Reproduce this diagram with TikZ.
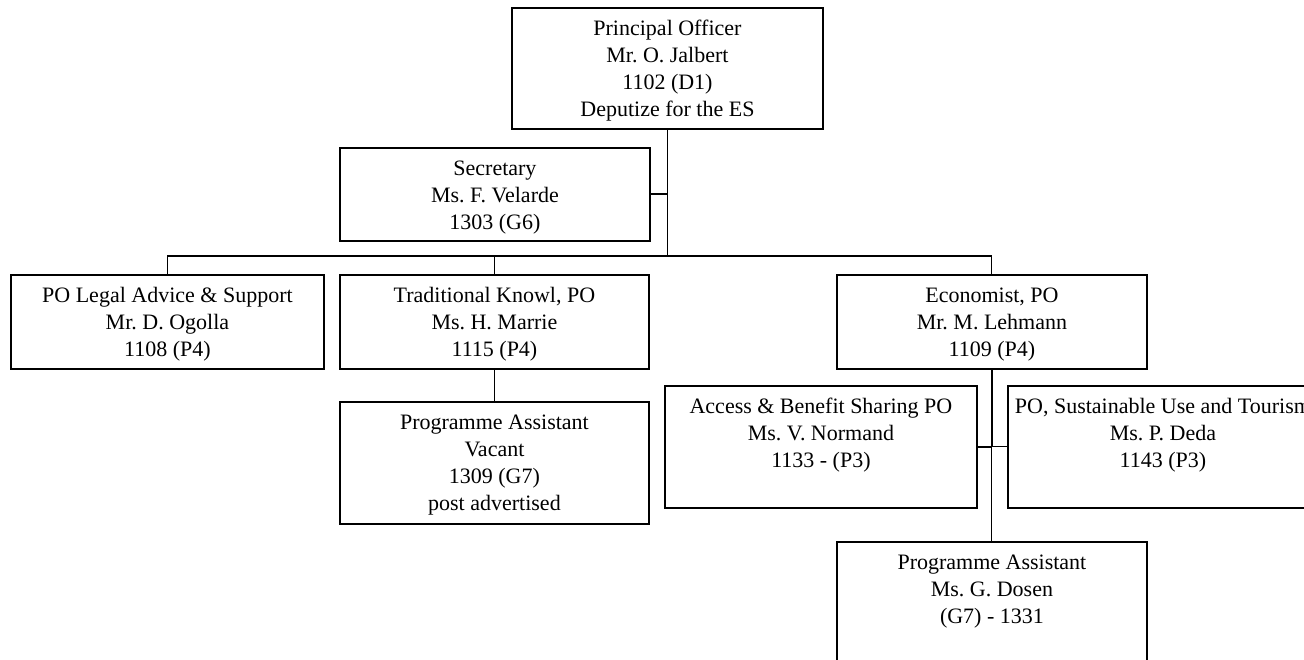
\documentclass[tikz,border=0pt]{standalone}
\usepackage{fontspec}
\setmainfont{Liberation Serif}
\frenchspacing
\newcommand{\postText}[3]{\parbox[c][#2pt][t]{#1pt}{\centering\rule{0pt}{28pt}#3}}
\tikzset{
  post/.style={draw, line width=1.9pt, inner sep=0pt, anchor=north west,
    font=\fontsize{22}{27}\selectfont},
  main link/.style={line width=1.9pt},
  side link/.style={line width=1pt}
}

\begin{document}
\begin{tikzpicture}[x=1pt, y=-1pt]
        \useasboundingbox (0,0) rectangle (1304,660);
        \clip (0,0) rectangle (1304,660);
        % boxes
        \node[post] (officer) at (511,7) {\postText{311}{121}{Principal Officer\\Mr. O. Jalbert\\1102 (D1)\\Deputize for the ES}};
        \node[post] (secretary) at (339,147) {\postText{310}{93}{Secretary\\Ms. F. Velarde\\1303 (G6)}};
        \node[post] (legal) at (10,274) {\postText{313}{94}{PO Legal Advice \& Support\\Mr. D. Ogolla\\1108 (P4)}};
        \node[post] (traditional) at (339,274) {\postText{309}{94}{Traditional Knowl, PO\\Ms. H. Marrie\\1115 (P4)}};
        \node[post] (vacant) at (339,401) {\postText{309}{122}{Programme Assistant\\Vacant\\1309 (G7)\\post advertised}};
        \node[post] (economist) at (836,274) {\postText{310}{94}{Economist, PO\\Mr. M. Lehmann\\1109 (P4)}};
        \node[post] (access) at (664,385) {\postText{312}{122}{Access \& Benefit Sharing PO\\Ms. V. Normand\\1133 - (P3)}};
        \node[post] (tourism) at (1007,385) {\postText{310}{122}{PO, Sustainable Use and Tourism\\Ms. P. Deda\\1143 (P3)}};
        \node[post] (dosen) at (836,541) {\postText{310}{124}{Programme Assistant\\Ms. G. Dosen\\(G7) - 1331}};
        % junctions
        \coordinate (hub) at (officer.south |- 0,256);
        \coordinate (economistHub) at (economist.south |- access.east);
        % connectors
        \draw[main link] (officer.south) -- (hub);
        \draw[main link] (secretary.east) -- (secretary.east -| hub);
        \draw[main link] (legal.north |- hub) -- (economist.north |- hub);
        \draw[side link] (legal.north |- hub) -- (legal.north);
        \draw[side link] (traditional.north |- hub) -- (traditional.north);
        \draw[side link] (economist.north |- hub) -- (economist.north);
        \draw[side link] (traditional.south) -- (vacant.north);
        \draw[main link] (economist.south) -- (economistHub);
        \draw[side link] (economistHub) -- (dosen.north);
        \draw[main link] (access.east) -- (economistHub);
        \draw[side link] (economistHub) -- (tourism.west);
\end{tikzpicture}
\end{document}
